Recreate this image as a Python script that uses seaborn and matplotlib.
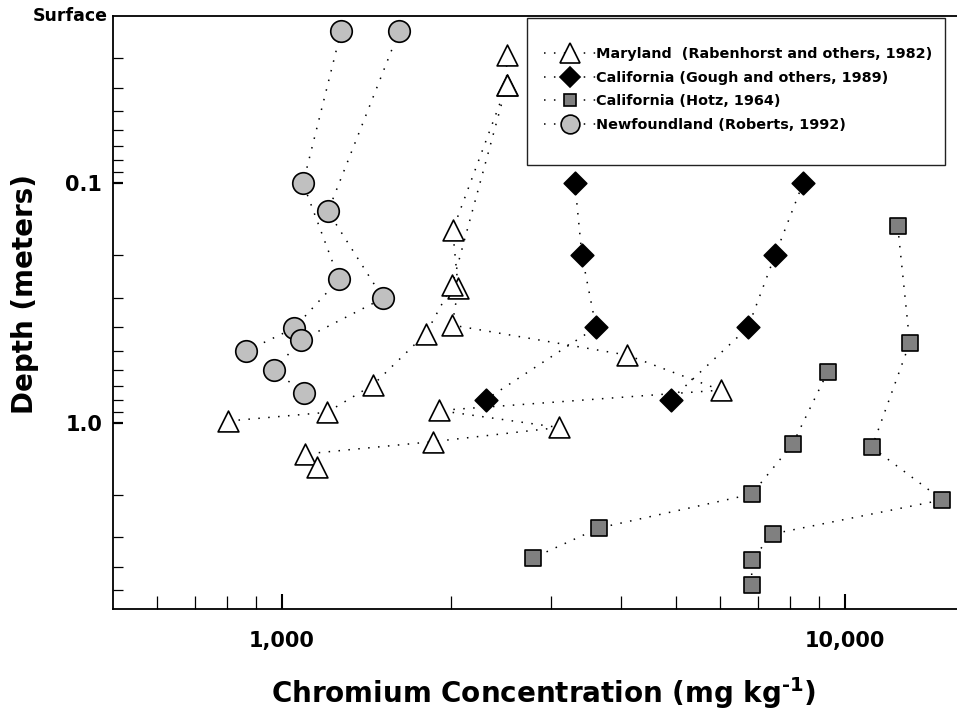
import matplotlib
matplotlib.use("Agg")
import matplotlib.pyplot as plt
from matplotlib.lines import Line2D
from matplotlib.patches import Rectangle
from matplotlib.ticker import FixedLocator, NullFormatter
import pandas as pd
import seaborn as sns

# Chromium (mg/kg) and sample depth (m) for each soil profile
maryland_a_cr = [2506, 2506, 2010, 2056, 2006, 4106, 6016, 1900, 3105, 1852, 1099, 1152]
maryland_a_depth = [0.0292, 0.0390, 0.157, 0.275, 0.391, 0.522, 0.731, 0.889, 1.047, 1.200, 1.351, 1.527]
maryland_b_cr = [2506, 2006, 1802, 1453, 1202, 801]
maryland_b_depth = [0.0390, 0.266, 0.424, 0.693, 0.905, 0.984]

gough_a_cr = [3314, 3410, 3613, 2303]
gough_b_cr = [8421, 7510, 6725, 4909]
gough_depth = [0.1, 0.2, 0.4, 0.8]

hotz_a_cr = [12408, 13032, 11166, 14890, 7440, 6828, 6828]
hotz_a_depth = [0.151, 0.464, 1.267, 2.101, 2.913, 3.74, 4.786]
hotz_b_cr = [9318, 8074, 6828, 3661, 2795]
hotz_b_depth = [0.613, 1.227, 1.989, 2.75, 3.667]

nf_a_cr = [1273, 1090, 1263, 1050, 863]
nf_a_depth = [0.0232, 0.100, 0.252, 0.403, 0.502]
nf_b_cr = [1614, 1207, 1512, 1081, 968, 1094]
nf_b_depth = [0.0232, 0.131, 0.302, 0.452, 0.603, 0.752]

series_labels = [
    "Maryland  (Rabenhorst and others, 1982)",
    "California (Gough and others, 1989)",
    "California (Hotz, 1964)",
    "Newfoundland (Roberts, 1992)",
]

x_major = [1000, 10000]
x_major_labels = ["1,000", "10,000"]
x_minor = [600, 700, 800, 900, 2000, 3000, 4000, 5000, 6000, 7000, 8000, 9000]
y_major = [0.1, 1.0]
y_major_labels = ["0.1", "1.0"]
y_minor = [0.03, 0.04, 0.05, 0.06, 0.07, 0.08, 0.09,
           0.2, 0.3, 0.4, 0.5, 0.6, 0.7, 0.8, 0.9, 2, 3, 4, 5]

sns.set_theme(style="white")
plt.rcParams["font.family"] = ["DejaVu Sans"]
plt.rcParams["font.weight"] = "bold"
plt.rcParams["text.color"] = "black"
plt.rcParams["axes.labelcolor"] = "black"
plt.rcParams["xtick.color"] = "black"
plt.rcParams["ytick.color"] = "black"
plt.rcParams["mathtext.fontset"] = "custom"
plt.rcParams["mathtext.bf"] = "DejaVu Sans:bold"
plt.rcParams["mathtext.rm"] = "DejaVu Sans:bold"

frames = []
def add(source, profile, cr, depth):
    frames.append(pd.DataFrame({"source": source, "profile": profile,
                                "cr": cr, "depth": depth,
                                "order": range(len(cr))}))

add("maryland", "a", maryland_a_cr, maryland_a_depth)
add("maryland", "b", maryland_b_cr, maryland_b_depth)
add("gough", "a", gough_a_cr, gough_depth)
add("gough", "b", gough_b_cr, gough_depth)
add("hotz", "a", hotz_a_cr, hotz_a_depth)
add("hotz", "b", hotz_b_cr, hotz_b_depth)
add("nf", "a", nf_a_cr, nf_a_depth)
add("nf", "b", nf_b_cr, nf_b_depth)
df = pd.concat(frames, ignore_index=True)

styles = {
    "maryland": dict(marker="^", ms=15, face="white", leg_ms=15),
    "gough": dict(marker="D", ms=11.5, face="black", leg_ms=10.5),
    "hotz": dict(marker="s", ms=12, face="#808080", leg_ms=9),
    "nf": dict(marker="o", ms=15.5, face="#c0c0c0", leg_ms=13.5),
}
dotted = (0, (1, 5.5))

W, H = 957, 715
fig = plt.figure(figsize=(W / 100, H / 100), dpi=100)
ax_left, ax_bottom, ax_top = 112.5, 609, 16
ax = fig.add_axes([ax_left / W, (H - ax_bottom) / H, (W - ax_left) / W, (ax_bottom - ax_top) / H])
ax.set_xscale("log")
ax.set_yscale("log")
ax.set_xlim(500, 15811)
ax.set_ylim(6.0, 0.02)

for (src, prof), g in df.groupby(["source", "profile"], sort=False):
    g = g.sort_values("order")
    sns.lineplot(data=g, x="cr", y="depth", sort=False, estimator=None, ax=ax,
                 color="black", linewidth=1.1, linestyle=dotted, zorder=2,
                 legend=False)

for (src, prof), g in df.groupby(["source", "profile"], sort=False):
    st = styles[src]
    sns.scatterplot(data=g, x="cr", y="depth", ax=ax, marker=st["marker"],
                    s=st["ms"] ** 2, color=st["face"], edgecolor="black",
                    linewidth=1.2, zorder=3, legend=False)

# axes frame
ax.spines["right"].set_visible(False)
for side in ("left", "bottom", "top"):
    ax.spines[side].set_color("black")
    ax.spines[side].set_linewidth(1.3)

ax.xaxis.set_major_locator(FixedLocator(x_major))
ax.xaxis.set_minor_locator(FixedLocator(x_minor))
ax.set_xticklabels(x_major_labels)
ax.xaxis.set_minor_formatter(NullFormatter())
ax.yaxis.set_major_locator(FixedLocator(y_major))
ax.yaxis.set_minor_locator(FixedLocator(y_minor))
ax.set_yticklabels(y_major_labels)
ax.yaxis.set_minor_formatter(NullFormatter())

ax.tick_params(axis="x", which="both", direction="in", bottom=True, top=False,
               color="black", labelcolor="black", labelsize=15, pad=15.5)
ax.tick_params(axis="x", which="major", length=10.5, width=1.5)
ax.tick_params(axis="x", which="minor", length=9.2, width=0.9)
ax.tick_params(axis="y", which="both", direction="in", left=True, right=False,
               color="black", labelcolor="black", labelsize=15, pad=7.5)
ax.tick_params(axis="y", which="major", length=7.2, width=1.6)
ax.tick_params(axis="y", which="minor", length=7.2, width=0.9)
for lab in ax.get_xticklabels() + ax.get_yticklabels():
    lab.set_fontweight("bold")
ax.grid(False)

ax.text((108 - ax_left) / (W - ax_left), 0.02, "Surface",
        transform=ax.get_yaxis_transform(), ha="right", va="center",
        fontsize=12.5, fontweight="bold", color="black")

ax.set_xlabel("")
ax.set_ylabel("")
fig.text(544 / W, 1 - 703 / H, r"Chromium Concentration (mg kg$^{\text{-1}}$)",
         ha="center", va="baseline", fontsize=20, fontweight="bold", color="black")
fig.text(33 / W, 1 - 294 / H, "Depth (meters)", rotation=90, rotation_mode="anchor",
         ha="center", va="baseline", fontsize=20, fontweight="bold", color="black")

# legend with a plain rectangular frame
handles = []
for src in ("maryland", "gough", "hotz", "nf"):
    st = styles[src]
    handles.append(Line2D([], [], color="black", linewidth=1.1, linestyle=dotted,
                          marker=st["marker"], markersize=st["leg_ms"],
                          markerfacecolor=st["face"], markeredgecolor="black",
                          markeredgewidth=1.2))
leg = ax.legend(handles, series_labels, loc="upper left",
                bbox_to_anchor=(537 / W, 1 - 40 / H), bbox_transform=fig.transFigure,
                frameon=False, borderpad=0, handlelength=3.6, handletextpad=0.0,
                labelspacing=0.66, prop={"weight": "bold", "size": 10.4})
for t in leg.get_texts():
    t.set_color("black")
leg.set_zorder(6)
box = Rectangle((527 / W, 1 - 165 / H), (945 - 527) / W, (165 - 18) / H,
                transform=fig.transFigure, facecolor="white", edgecolor="#222222",
                linewidth=1.0, zorder=5, clip_on=False)
ax.add_artist(box)

fig.savefig("out.png", dpi=100)
